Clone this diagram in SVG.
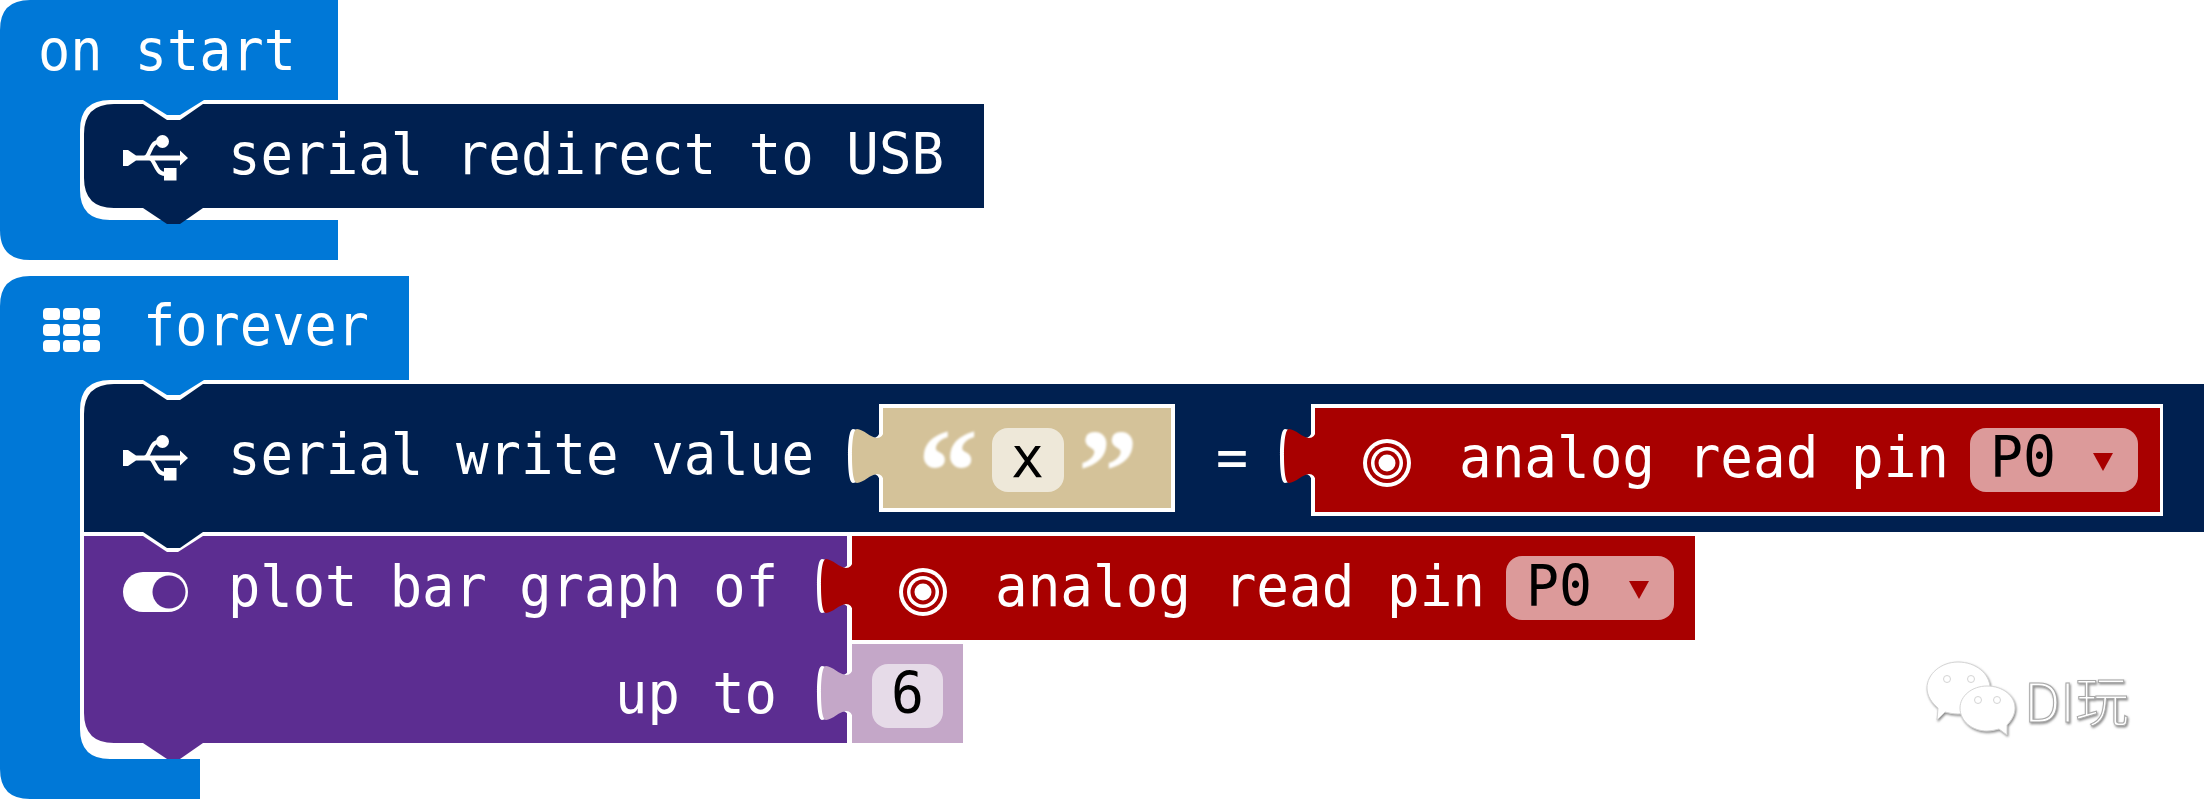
<svg xmlns="http://www.w3.org/2000/svg" width="2204" height="800" viewBox="0 0 2204 800">
<style>
text{font-family:"DejaVu Sans Mono","Liberation Mono",monospace;font-size:57px}
.w{fill:#fff}.k{fill:#000}
.blue{fill:#0078d7}.navy{fill:#002050}.purple{fill:#5c2d91}.red{fill:#a80000}.tan{fill:#d4c299}.num{fill:#c4a7c8}
.q{font-family:"Liberation Serif",serif;font-weight:bold;font-size:120px;fill:#fff;filter:url(#soft)}
.wm{font-family:"Noto Sans CJK SC","Noto Sans",sans-serif;font-size:54px;font-weight:300;fill:#fff;stroke:#a8a8a8;stroke-width:1;filter:url(#shadow)}
.bub{fill:#fff;stroke:#d4d4d4;stroke-width:1}
</style>
<defs>
<filter id="soft" x="-20%" y="-20%" width="140%" height="140%"><feGaussianBlur stdDeviation="1.300"/></filter>
<filter id="shadow" x="-10%" y="-10%" width="125%" height="125%"><feDropShadow dx="1" dy="1.500" stdDeviation="1" flood-color="#8a8a8a"/></filter>
<path id="tab" d="M1,-30V-26Q0,-18 -6,-18C-12,-18 -20,-27 -26,-27C-30,-27 -31,-12 -31,0C-31,12 -30,27 -26,27C-20,27 -12,18 -6,18Q0,18 1,26V30Z"/>
<g id="usb" fill="#fff">
<path d="M123,150H128L136,155.500H180V150.500L188,158L180,165.500V160.500H136L128,166H123Z"/>
<circle cx="162.500" cy="141.500" r="6.500"/>
<rect x="164" y="168" width="12.500" height="12.500"/>
<path d="M144,158C150,158 150,142 158,142M149,158C155,158 155,174 165,174" fill="none" stroke="#fff" stroke-width="4"/>
</g>
<g id="target">
<circle r="24" fill="#fff"/><circle r="20" fill="#a80000"/><circle r="16" fill="#fff"/><circle r="12.500" fill="#a80000"/><circle r="8.500" fill="#fff"/>
</g>
<g id="grid" fill="#fff">
<rect x="43" y="308" width="17" height="12" rx="4"/><rect x="63" y="308" width="17" height="12" rx="4"/><rect x="83" y="308" width="17" height="12" rx="4"/>
<rect x="43" y="324" width="17" height="12" rx="4"/><rect x="63" y="324" width="17" height="12" rx="4"/><rect x="83" y="324" width="17" height="12" rx="4"/>
<rect x="43" y="340" width="17" height="12" rx="4"/><rect x="63" y="340" width="17" height="12" rx="4"/><rect x="83" y="340" width="17" height="12" rx="4"/>
</g>
</defs>

<g id="on-start">
<path class="blue" d="M30,0H338V100H204L180,115H167L143,100H110Q80,100 80,130V190Q80,220 110,220H338V260H30Q0,260 0,230V30Q0,0 30,0Z"/>
<text x="38" y="70" class="w" textLength="258" lengthAdjust="spacingAndGlyphs">on start</text>
</g>
<g id="serial-redirect">
<path class="navy" d="M114,104H143L167,120H180L203,104H984V208H203L180,224H167L143,208H114Q84,208 84,178V134Q84,104 114,104Z"/>
<use href="#usb"/>
<text x="228" y="174" class="w" textLength="716" lengthAdjust="spacingAndGlyphs">serial redirect to USB</text>
</g>

<g id="forever">
<path class="blue" d="M30,276H409V380H204L180,395H167L143,380H110Q80,380 80,410V729Q80,759 110,759H200V799H30Q0,799 0,769V306Q0,276 30,276Z"/>
<use href="#grid"/>
<text x="143" y="345" class="w" textLength="226" lengthAdjust="spacingAndGlyphs">forever</text>
</g>

<g id="serial-write">
<path class="navy" d="M114,384H143L167,400H180L203,384H2204V532H203L180,548H167L143,532H84V414Q84,384 114,384Z"/>
<use href="#usb" y="300"/>
<text x="228" y="474" class="w" textLength="586" lengthAdjust="spacingAndGlyphs">serial write value</text>
<text x="1216" y="477" class="w" textLength="32" lengthAdjust="spacingAndGlyphs">=</text>
</g>

<g id="string-x">
<rect x="879" y="404" width="296" height="108" fill="#fff"/>
<use href="#tab" x="879" y="456" fill="#fff"/>
<rect x="883" y="408" width="288" height="100" class="tan"/>
<use href="#tab" x="883" y="456" class="tan"/>
<text x="918" y="512" class="q">“</text>
<text x="1078" y="512" class="q">”</text>
<rect x="992" y="428" width="72" height="64" rx="16" fill="#eee8d9"/>
<text x="1011" y="477" class="k" textLength="33" lengthAdjust="spacingAndGlyphs">x</text>
</g>

<g id="analog-read-1">
<rect x="1311" y="404" width="852" height="112" fill="#fff"/>
<use href="#tab" x="1311" y="456" fill="#fff"/>
<rect x="1315" y="408" width="845" height="104" class="red"/>
<use href="#tab" x="1315" y="456" class="red"/>
<use href="#target" x="1387" y="463"/>
<text x="1459" y="477" class="w" textLength="490" lengthAdjust="spacingAndGlyphs">analog read pin</text>
<rect x="1970" y="428" width="168" height="64" rx="16" fill="#dc9a9a"/>
<text x="1990" y="477" class="k" textLength="66" lengthAdjust="spacingAndGlyphs">P0</text>
<path class="red" d="M2093,453H2113L2103,471Z"/>
</g>

<g id="plot-bar-graph">
<path class="purple" d="M84,536H143L167,552H178L203,536H847V743H203L180,759H167L143,743H114Q84,743 84,713Z"/>
<use href="#tab" x="848" y="586" fill="#fff"/>
<use href="#tab" x="848" y="693" fill="#fff"/>
<rect x="123" y="572" width="65" height="40" rx="20" fill="#fff"/>
<circle cx="169" cy="592" r="16.500" class="purple"/>
<text x="228" y="606" class="w" textLength="550" lengthAdjust="spacingAndGlyphs">plot bar graph of</text>
<text x="615" y="713" class="w" textLength="162" lengthAdjust="spacingAndGlyphs">up to</text>
</g>

<g id="analog-read-2">
<rect x="852" y="536" width="843" height="104" class="red"/>
<use href="#tab" x="852" y="586" class="red"/>
<use href="#target" x="923" y="592"/>
<text x="995" y="606" class="w" textLength="490" lengthAdjust="spacingAndGlyphs">analog read pin</text>
<rect x="1506" y="556" width="168" height="64" rx="16" fill="#dc9a9a"/>
<text x="1526" y="606" class="k" textLength="66" lengthAdjust="spacingAndGlyphs">P0</text>
<path class="red" d="M1629,581H1649L1639,599Z"/>
</g>

<g id="number-6">
<rect x="852" y="644" width="111" height="99" class="num"/>
<use href="#tab" x="852" y="693" class="num"/>
<rect x="872" y="664" width="71" height="64" rx="16" fill="#e6dbe8"/>
<text x="891" y="713" class="k" textLength="33" lengthAdjust="spacingAndGlyphs">6</text>
</g>

<g id="watermark" filter="url(#shadow)">
<path class="bub" d="M1958,662C1976,662 1990,674 1990,688C1990,702 1976,714 1958,714C1953,714 1949,713 1945,712L1937,720L1938,708C1932,703 1927,696 1927,688C1927,674 1941,662 1958,662Z"/>
<circle cx="1947" cy="679" r="3.500" class="bub" stroke="#999"/><circle cx="1971" cy="679" r="3.500" class="bub"/>
<path class="bub" d="M1987,686C2003,686 2015,696 2015,708C2015,714 2012,720 2007,725L2007,735L1999,729C1995,730 1991,731 1987,731C1972,731 1960,721 1960,708C1960,696 1972,686 1987,686Z"/>
<circle cx="1978" cy="700" r="3.500" class="bub"/><circle cx="1997" cy="700" r="3.500" class="bub"/>
</g>
<text x="2024" y="722" class="wm">DI玩</text>
</svg>
